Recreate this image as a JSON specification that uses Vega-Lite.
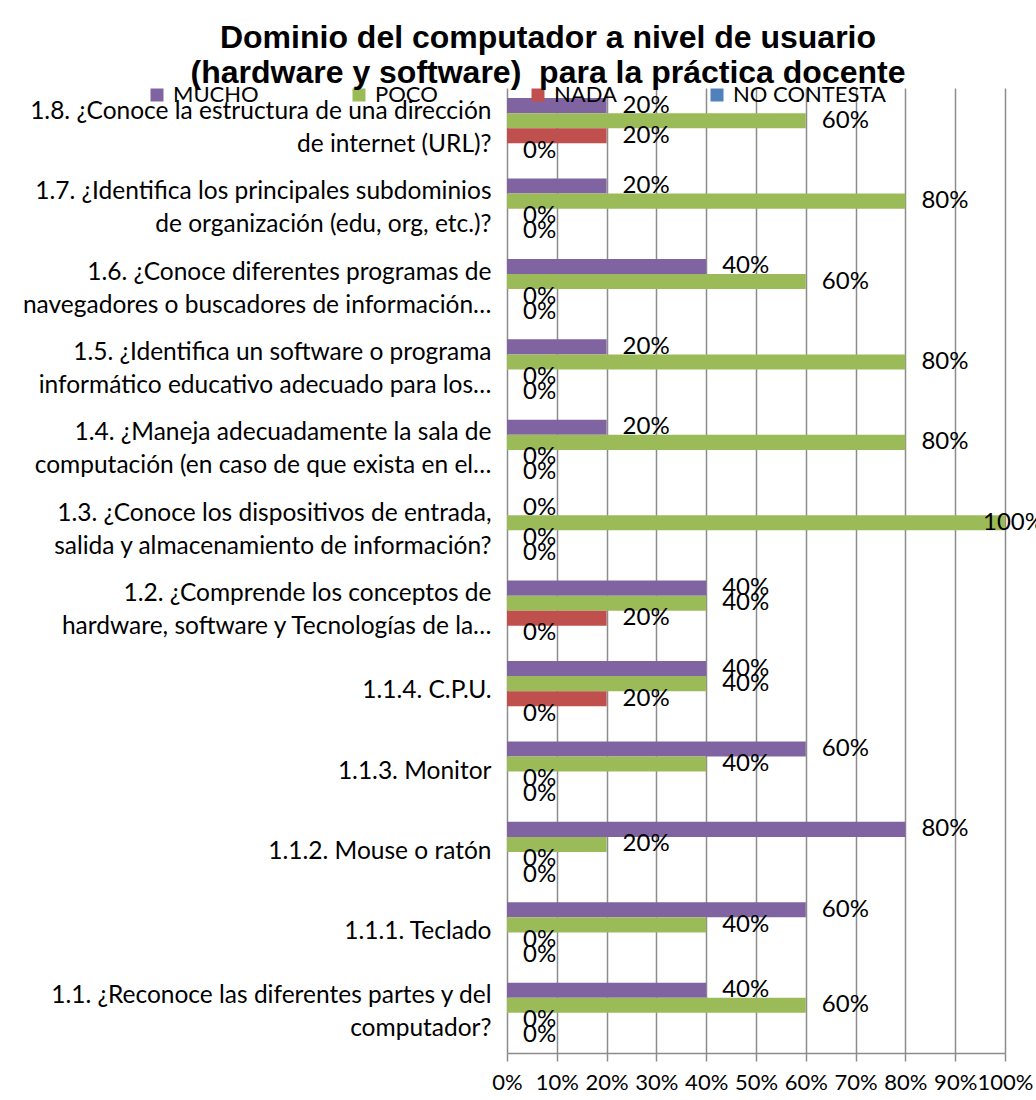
{
  "$schema": "https://vega.github.io/schema/vega-lite/v6.json",
  "width": 498,
  "height": 965,
  "autosize": {"type": "none"},
  "padding": {"left": 507, "top": 88, "right": 31, "bottom": 47},
  "background": "white",
  "title": {
    "text": ["Dominio del computador a nivel de usuario", "(hardware y software)\u00a0 para la práctica docente"],
    "font": "Liberation Sans",
    "fontSize": 32,
    "fontWeight": "bold",
    "color": "black",
    "anchor": "middle",
    "frame": "group",
    "dx": -208,
    "lineHeight": 35,
    "offset": -6
  },
  "data": {
    "values": [
      {"q": "1.8. ¿Conoce la estructura de una dirección|de internet (URL)?", "s": "MUCHO", "v": 0.2},
      {"q": "1.8. ¿Conoce la estructura de una dirección|de internet (URL)?", "s": "POCO", "v": 0.6},
      {"q": "1.8. ¿Conoce la estructura de una dirección|de internet (URL)?", "s": "NADA", "v": 0.2},
      {"q": "1.8. ¿Conoce la estructura de una dirección|de internet (URL)?", "s": "NO CONTESTA", "v": 0},
      {"q": "1.7. ¿Identifica los principales subdominios|de organización (edu, org, etc.)?", "s": "MUCHO", "v": 0.2},
      {"q": "1.7. ¿Identifica los principales subdominios|de organización (edu, org, etc.)?", "s": "POCO", "v": 0.8},
      {"q": "1.7. ¿Identifica los principales subdominios|de organización (edu, org, etc.)?", "s": "NADA", "v": 0},
      {"q": "1.7. ¿Identifica los principales subdominios|de organización (edu, org, etc.)?", "s": "NO CONTESTA", "v": 0},
      {"q": "1.6. ¿Conoce diferentes programas de|navegadores o buscadores de información…", "s": "MUCHO", "v": 0.4},
      {"q": "1.6. ¿Conoce diferentes programas de|navegadores o buscadores de información…", "s": "POCO", "v": 0.6},
      {"q": "1.6. ¿Conoce diferentes programas de|navegadores o buscadores de información…", "s": "NADA", "v": 0},
      {"q": "1.6. ¿Conoce diferentes programas de|navegadores o buscadores de información…", "s": "NO CONTESTA", "v": 0},
      {"q": "1.5. ¿Identifica un software o programa|informático educativo adecuado para los…", "s": "MUCHO", "v": 0.2},
      {"q": "1.5. ¿Identifica un software o programa|informático educativo adecuado para los…", "s": "POCO", "v": 0.8},
      {"q": "1.5. ¿Identifica un software o programa|informático educativo adecuado para los…", "s": "NADA", "v": 0},
      {"q": "1.5. ¿Identifica un software o programa|informático educativo adecuado para los…", "s": "NO CONTESTA", "v": 0},
      {"q": "1.4. ¿Maneja adecuadamente la sala de|computación (en caso de que exista en el…", "s": "MUCHO", "v": 0.2},
      {"q": "1.4. ¿Maneja adecuadamente la sala de|computación (en caso de que exista en el…", "s": "POCO", "v": 0.8},
      {"q": "1.4. ¿Maneja adecuadamente la sala de|computación (en caso de que exista en el…", "s": "NADA", "v": 0},
      {"q": "1.4. ¿Maneja adecuadamente la sala de|computación (en caso de que exista en el…", "s": "NO CONTESTA", "v": 0},
      {"q": "1.3. ¿Conoce los dispositivos de entrada,|salida y almacenamiento de información?", "s": "MUCHO", "v": 0},
      {"q": "1.3. ¿Conoce los dispositivos de entrada,|salida y almacenamiento de información?", "s": "POCO", "v": 1.0},
      {"q": "1.3. ¿Conoce los dispositivos de entrada,|salida y almacenamiento de información?", "s": "NADA", "v": 0},
      {"q": "1.3. ¿Conoce los dispositivos de entrada,|salida y almacenamiento de información?", "s": "NO CONTESTA", "v": 0},
      {"q": "1.2. ¿Comprende los conceptos de|hardware, software y Tecnologías de la…", "s": "MUCHO", "v": 0.4},
      {"q": "1.2. ¿Comprende los conceptos de|hardware, software y Tecnologías de la…", "s": "POCO", "v": 0.4},
      {"q": "1.2. ¿Comprende los conceptos de|hardware, software y Tecnologías de la…", "s": "NADA", "v": 0.2},
      {"q": "1.2. ¿Comprende los conceptos de|hardware, software y Tecnologías de la…", "s": "NO CONTESTA", "v": 0},
      {"q": "1.1.4. C.P.U.", "s": "MUCHO", "v": 0.4},
      {"q": "1.1.4. C.P.U.", "s": "POCO", "v": 0.4},
      {"q": "1.1.4. C.P.U.", "s": "NADA", "v": 0.2},
      {"q": "1.1.4. C.P.U.", "s": "NO CONTESTA", "v": 0},
      {"q": "1.1.3. Monitor", "s": "MUCHO", "v": 0.6},
      {"q": "1.1.3. Monitor", "s": "POCO", "v": 0.4},
      {"q": "1.1.3. Monitor", "s": "NADA", "v": 0},
      {"q": "1.1.3. Monitor", "s": "NO CONTESTA", "v": 0},
      {"q": "1.1.2. Mouse o ratón", "s": "MUCHO", "v": 0.8},
      {"q": "1.1.2. Mouse o ratón", "s": "POCO", "v": 0.2},
      {"q": "1.1.2. Mouse o ratón", "s": "NADA", "v": 0},
      {"q": "1.1.2. Mouse o ratón", "s": "NO CONTESTA", "v": 0},
      {"q": "1.1.1. Teclado", "s": "MUCHO", "v": 0.6},
      {"q": "1.1.1. Teclado", "s": "POCO", "v": 0.4},
      {"q": "1.1.1. Teclado", "s": "NADA", "v": 0},
      {"q": "1.1.1. Teclado", "s": "NO CONTESTA", "v": 0},
      {"q": "1.1. ¿Reconoce las diferentes partes y del|computador?", "s": "MUCHO", "v": 0.4},
      {"q": "1.1. ¿Reconoce las diferentes partes y del|computador?", "s": "POCO", "v": 0.6},
      {"q": "1.1. ¿Reconoce las diferentes partes y del|computador?", "s": "NADA", "v": 0},
      {"q": "1.1. ¿Reconoce las diferentes partes y del|computador?", "s": "NO CONTESTA", "v": 0}
    ]
  },
  "encoding": {
    "y": {
      "field": "q",
      "type": "nominal",
      "sort": null,
      "scale": {"paddingInner": 0.25, "paddingOuter": 0.125},
      "axis": {
        "title": null,
        "domain": false,
        "ticks": false,
        "labelFont": "Lato",
        "labelFontSize": 24.5,
        "labelColor": "black",
        "labelPadding": 16,
        "labelLimit": 560,
        "labelLineHeight": 33,
        "labelOffset": {"condition": {"test": "indexof(datum.value, '|') >= 0", "value": -16.5}, "value": 0},
        "labelExpr": "split(datum.label, '|')"
      }
    },
    "yOffset": {
      "field": "s",
      "type": "nominal",
      "sort": ["MUCHO", "POCO", "NADA", "NO CONTESTA"],
      "scale": {"paddingInner": 0, "paddingOuter": 0}
    },
    "x": {
      "field": "v",
      "type": "quantitative",
      "scale": {"domain": [0, 1], "nice": false},
      "axis": {
        "title": null,
        "values": [0, 0.1, 0.2, 0.3, 0.4, 0.5, 0.6, 0.7, 0.8, 0.9, 1],
        "format": ".0%",
        "grid": true,
        "gridColor": "#8c8c8c",
        "gridOpacity": 1,
        "gridWidth": 1.5,
        "domainColor": "#8c8c8c",
        "domainWidth": 1.5,
        "tickColor": "#8c8c8c",
        "tickWidth": 1.5,
        "tickSize": 8,
        "labelFont": "Lato",
        "labelFontSize": 22,
        "labelColor": "black",
        "labelPadding": 11,
        "labelFlush": false,
        "labelOverlap": false
      }
    }
  },
  "layer": [
    {
      "mark": {"type": "bar"},
      "encoding": {
        "color": {
          "field": "s",
          "type": "nominal",
          "sort": ["MUCHO", "POCO", "NADA", "NO CONTESTA"],
          "scale": {"domain": ["MUCHO", "POCO", "NADA", "NO CONTESTA"], "range": ["#8064A2", "#9BBB59", "#C0504D", "#4F81BD"]},
          "legend": {
            "title": null,
            "orient": "none",
            "legendX": -361,
            "legendY": -4,
            "direction": "horizontal",
            "symbolType": "square",
            "symbolSize": 169,
            "symbolStrokeWidth": 0,
            "labelFont": "Lato",
            "labelFontSize": 22,
            "labelColor": "black",
            "labelOffset": 5,
            "columnPadding": 89
          }
        }
      }
    },
    {
      "transform": [{"filter": "datum.v < 1"}],
      "mark": {"type": "text", "align": "left", "baseline": "middle", "dx": 16, "font": "Lato", "fontSize": 24, "color": "black"},
      "encoding": {
        "text": {"field": "v", "type": "quantitative", "format": ".0%"}
      }
    },
    {
      "transform": [{"filter": "datum.v >= 1"}],
      "mark": {"type": "text", "align": "left", "baseline": "middle", "dx": -22, "font": "Lato", "fontSize": 24, "color": "black"},
      "encoding": {
        "text": {"field": "v", "type": "quantitative", "format": ".0%"}
      }
    }
  ],
  "config": {"view": {"stroke": null}}
}
